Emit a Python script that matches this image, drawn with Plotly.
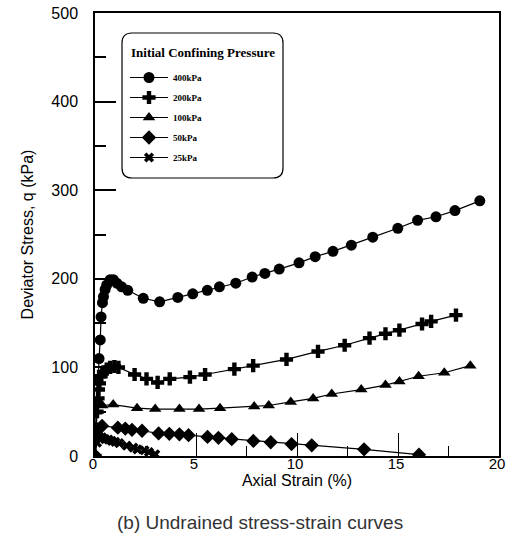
import plotly.graph_objects as go

# ---- data (axial strain %, deviator stress kPa) ----
labels = ["400kPa", "200kPa", "100kPa", "50kPa", "25kPa"]

s400_x = [0, 0.05, 0.1, 0.15, 0.2, 0.26, 0.3, 0.37, 0.42, 0.5, 0.58, 0.75, 0.91, 1.08, 1.32, 1.62,
          2.39, 3.2, 4.1, 4.84, 5.56, 6.16, 6.97, 7.78, 8.41, 9.12, 10.1, 10.9, 11.78, 12.69,
          13.75, 14.99, 15.97, 16.88, 17.82, 19.05]
s400_y = [0, 30, 60, 85, 110, 131, 157, 173, 180, 188, 193, 199, 199, 195, 191, 187,
          178, 174, 179, 183, 187, 191, 195, 202, 206, 211, 218, 225, 231, 238,
          247, 257, 266, 270, 277, 288]

s200_x = [0, 0.05, 0.1, 0.15, 0.17, 0.22, 0.3, 0.42, 0.58, 0.75, 0.96, 1.16, 1.96, 2.55, 3.1,
          3.7, 4.7, 5.45, 6.9, 7.83, 9.48, 11.04, 12.36, 13.59, 14.38, 15.07, 16.19, 16.64, 17.87]
s200_y = [0, 30, 50, 65, 75, 82, 90, 95, 98, 100, 101, 100, 92, 87, 83,
          87, 89, 92, 98, 102, 109, 118, 125, 133, 138, 142, 149, 152, 159]

s100_x = [0, 0.03, 0.05, 0.1, 0.36, 0.9, 2.08, 2.98, 4.18, 5.15, 6.19, 7.88, 8.6, 9.69,
          10.8, 11.72, 13.18, 14.38, 15.07, 16.02, 17.29, 18.58]
s100_y = [0, 30, 50, 59, 57, 58, 54, 53, 53, 53, 54, 56, 57, 61,
          65, 70, 75, 80, 84, 90, 94, 102]

s50_x = [0, 0.05, 0.15, 0.35, 1.13, 1.5, 1.83, 2.33, 3.15, 3.68, 4.18, 4.63, 5.57, 6.11,
         6.77, 7.84, 8.7, 9.73, 10.73, 13.32, 16.04]
s50_y = [0, 20, 30, 34, 32, 31, 29.5, 28.5, 25.5, 25, 24.5, 23.5, 21.5, 20.5,
         19, 17, 15.5, 13.5, 12, 7.5, 1.5]

s25_x = [0, 0.1, 0.2, 0.35, 0.5, 0.67, 0.83, 1.0, 1.2, 1.57, 1.9, 2.1, 2.45, 2.67, 2.98]
s25_y = [0, 15, 22, 21, 19, 18.5, 17, 16, 14.5, 11.6, 9.4, 7.5, 6.5, 4.5, 2]

xs = [s400_x, s200_x, s100_x, s50_x, s25_x]
ys = [s400_y, s200_y, s100_y, s50_y, s25_y]
symbols = ["circle", "cross", "triangle-up", "diamond", "x"]
sizes = [11, 11, 11, 11, 9]

fig = go.Figure()
for lab, x, y, sym, sz in zip(labels, xs, ys, symbols, sizes):
    fig.add_trace(go.Scatter(
        x=x, y=y, name=lab, legendgroup=lab, mode="lines+markers",
        line=dict(color="black", width=1.2),
        marker=dict(symbol=sym, size=sz, color="black", line=dict(width=0)),
    ))

# plot area geometry (pixels) for legend box
W, H = 507, 553
L, R, T, B = 95, 8, 13, 97
pw, ph = W - L - R, H - T - B

def px(xp):
    return (xp - L) / pw

def py(yp):
    return (H - B - yp) / ph

bx0, bx1, by0, by1, r = 122, 283, 33, 178, 10
rx, ry = r / pw, r / ph
X0, X1, Y0, Y1 = px(bx0), px(bx1), py(by1), py(by0)
path = (f"M {X0+rx},{Y1} L {X1-rx},{Y1} Q {X1},{Y1} {X1},{Y1-ry} "
        f"L {X1},{Y0+ry} Q {X1},{Y0} {X1-rx},{Y0} "
        f"L {X0+rx},{Y0} Q {X0},{Y0} {X0},{Y0+ry} "
        f"L {X0},{Y1-ry} Q {X0},{Y1} {X0+rx},{Y1} Z")
fig.add_shape(type="path", path=path, xref="paper", yref="paper",
              line=dict(color="black", width=1.2), fillcolor="white", layer="below")

tickfont = dict(family="Liberation Sans Narrow, Arial Narrow, Liberation Sans, Arial", size=16, color="black")
xtickfont = dict(family="Liberation Sans Narrow, Arial Narrow, Liberation Sans, Arial", size=15, color="black")
serif = "Liberation Serif, Times New Roman, serif"

fig.update_layout(
    width=W, height=H,
    margin=dict(l=L, r=R, t=T, b=B, autoexpand=False),
    paper_bgcolor="white", plot_bgcolor="white",
    showlegend=True,
    legend=dict(
        x=px(125), y=py(63), xanchor="left", yanchor="top",
        bgcolor="rgba(0,0,0,0)", borderwidth=0,
        itemwidth=38,
        font=dict(family=serif, size=9, color="black", weight="bold"),
        traceorder="grouped", tracegroupgap=1,
    ),
    xaxis=dict(
        range=[0, 20], tickvals=[0, 5, 10, 15, 20], automargin=False,
        showline=True, linecolor="black", linewidth=1.5, mirror=True,
        ticks="inside", ticklen=23, tickcolor="black", tickwidth=1,
        minor=dict(ticks="inside", ticklen=10, dtick=2.5, tickcolor="black"),
        showgrid=False, zeroline=False, ticklabeloverflow="allow",
        tickfont=xtickfont, ticklabelstandoff=-7, ticklabelshift=-2,
        title=dict(text="Axial Strain (%)", standoff=2,
                   font=dict(family="Liberation Sans, Arial", size=16, color="black")),
    ),
    yaxis=dict(
        range=[0, 500], tickvals=[0, 100, 200, 300, 400, 500], automargin=False,
        showline=True, linecolor="black", linewidth=1.5, mirror=True,
        ticks="inside", ticklen=21, tickcolor="black", tickwidth=1.5,
        minor=dict(ticks="inside", ticklen=11, dtick=50, tickcolor="black"),
        showgrid=False, zeroline=False,
        tickfont=tickfont, ticklabelstandoff=12,
        title=dict(text="Deviator Stress, q (kPa)", standoff=14,
                   font=dict(family="Liberation Sans, Arial", size=16, color="black")),
    ),
    annotations=[
        dict(text="<b>Initial Confining Pressure</b>",
             xref="paper", yref="paper", x=px(129), y=py(52),
             xanchor="left", yanchor="middle", showarrow=False,
             font=dict(family=serif, size=13, color="black")),
        dict(text="(b) Undrained stress-strain curves",
             xref="paper", yref="paper", x=px(260), y=py(522),
             xanchor="center", yanchor="middle", showarrow=False,
             font=dict(family="Liberation Sans, Arial", size=19, color="#333333")),
    ],
)

fig.write_html("out.html")
